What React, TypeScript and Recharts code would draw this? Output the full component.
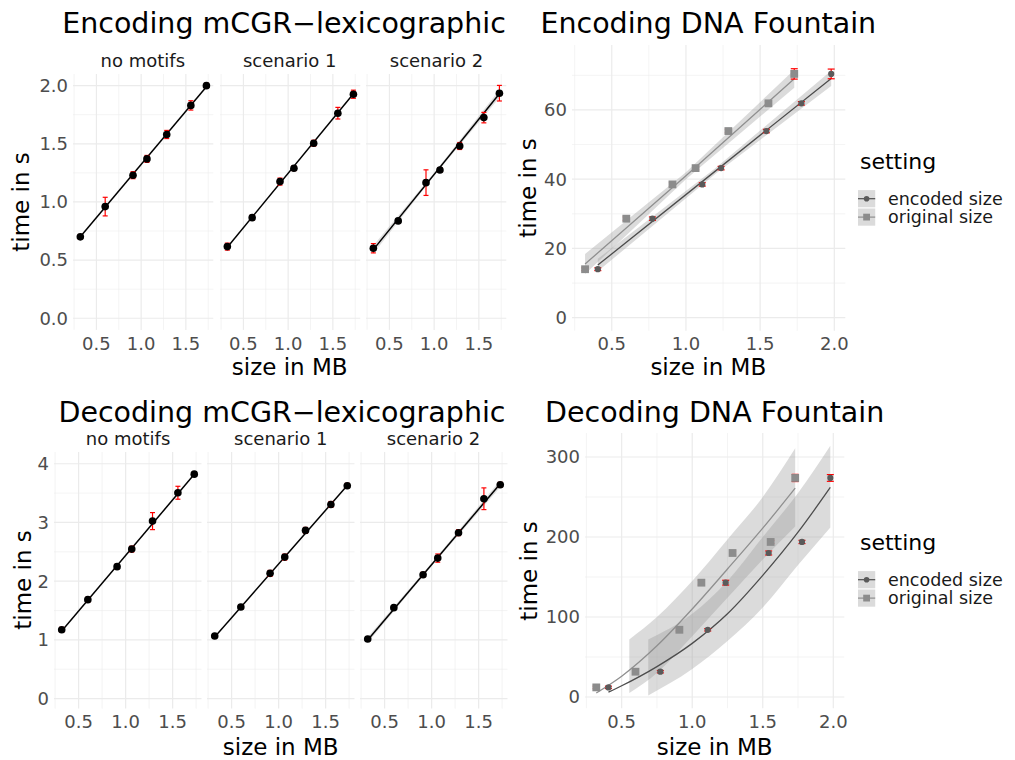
import React from 'react';
import { ComposedChart, Scatter, Line, Area, XAxis, YAxis, CartesianGrid, ErrorBar } from 'recharts';

const FONT = "'DejaVu Sans', 'Liberation Sans', sans-serif";

// ---------------- data ----------------
const scenarios = ['no motifs', 'scenario 1', 'scenario 2'];
const originalSizeMB = [0.32, 0.598, 0.909, 1.065, 1.286, 1.556, 1.73];
const encodedSizeMB = [0.406, 0.774, 1.11, 1.237, 1.542, 1.778, 1.979];

// mCGR encoding times (s)
const mcgrEncNoMotifs = [0.70, 0.96, 1.23, 1.37, 1.58, 1.83, 2.0];
const mcgrEncNoMotifsErr = [0.02, 0.08, 0.03, 0.03, 0.035, 0.04, 0.02];
const mcgrEncScen1 = [0.616, 0.865, 1.175, 1.29, 1.505, 1.763, 1.926];
const mcgrEncScen1Err = [0.03, 0.02, 0.03, 0.02, 0.025, 0.05, 0.035];
const mcgrEncScen2 = [0.602, 0.837, 1.166, 1.275, 1.481, 1.725, 1.935];
const mcgrEncScen2Err = [0.04, 0.02, 0.11, 0.02, 0.03, 0.045, 0.067];
const mcgrEncFitStart = [0.70, 0.61, 0.59];
const mcgrEncFitEnd = [1.99, 1.93, 1.93];
const mcgrEncScen2BandX = [0.32, 1.0, 1.73];
const mcgrEncScen2BandLo = [0.555, 1.225, 1.895];
const mcgrEncScen2BandHi = [0.625, 1.25, 1.965];

// mCGR decoding times (s)
const mcgrDecNoMotifs = [1.174, 1.685, 2.247, 2.546, 3.023, 3.506, 3.823];
const mcgrDecNoMotifsErr = [0.04, 0.04, 0.04, 0.05, 0.145, 0.11, 0.03];
const mcgrDecScen1 = [1.066, 1.559, 2.133, 2.41, 2.865, 3.307, 3.626];
const mcgrDecScen1Err = [0.03, 0.04, 0.05, 0.05, 0.05, 0.05, 0.04];
const mcgrDecScen2 = [1.014, 1.549, 2.11, 2.393, 2.826, 3.404, 3.643];
const mcgrDecScen2Err = [0.03, 0.03, 0.04, 0.07, 0.05, 0.185, 0.04];
const mcgrDecFitStart = [1.15, 1.05, 1.0];
const mcgrDecFitEnd = [3.82, 3.63, 3.66];
const mcgrDecScen2BandX = [0.32, 1.0, 1.73];
const mcgrDecScen2BandLo = [0.95, 2.26, 3.6];
const mcgrDecScen2BandHi = [1.05, 2.31, 3.72];

// DNA Fountain encoding times (s)
const fountainEncTime = [14.0, 28.6, 38.5, 43.2, 53.9, 61.9, 70.4];
const fountainEncErrOrig = [0.4, 0.5, 0.5, 0.5, 0.5, 0.5, 1.5];
const fountainEncErrEnc = [0.4, 0.5, 0.5, 0.5, 0.5, 0.5, 1.4];
const fountainEncFitOrigX = [0.32, 1.0, 1.73];
const fountainEncFitOrigY = [15.5, 41.0, 69.0];
const fountainEncFitOrigLo = [12.6, 40.0, 66.4];
const fountainEncFitOrigHi = [18.4, 42.0, 71.6];
const fountainEncFitEncX = [0.406, 1.2, 1.979];
const fountainEncFitEncY = [15.2, 42.4, 69.1];
const fountainEncFitEncLo = [13.4, 41.6, 66.9];
const fountainEncFitEncHi = [17.0, 43.2, 71.3];

// DNA Fountain decoding times (s)
const fountainDecTime = [12, 31.6, 84, 142.9, 180, 193.8, 273.8];
const fountainDecErrOrig = [1.5, 2, 1.5, 3, 2.5, 2, 4.5];
const fountainDecErrEnc = [1.5, 1.5, 1.5, 3, 2.5, 2, 4.2];
const fountainDecFitOrigX = [0.32, 0.5, 0.75, 1.0, 1.25, 1.5, 1.73];
const fountainDecFitOrigY = [5, 26, 64, 110, 160, 211, 261];
const fountainDecBandOrigX = [0.554, 0.75, 1.0, 1.25, 1.5, 1.73];
const fountainDecBandOrigLo = [5, 30, 76, 124, 172, 213];
const fountainDecBandOrigHi = [72, 100, 145, 197, 250, 311];
const fountainDecFitEncX = [0.406, 0.5, 0.75, 1.0, 1.25, 1.5, 1.75, 1.979];
const fountainDecFitEncY = [6, 14, 38, 67, 104, 152, 206, 262];
const fountainDecBandEncX = [0.688, 1.0, 1.25, 1.5, 1.75, 1.979];
const fountainDecBandEncLo = [2, 35, 70, 112, 165, 212];
const fountainDecBandEncHi = [72, 104, 145, 200, 255, 314];

// ticks
const mcgrXTicks = [0.5, 1.0, 1.5];
const mcgrXMinor = [0.25, 0.75, 1.25, 1.75];
const mcgrEncYTicks = [0, 0.5, 1.0, 1.5, 2.0];
const mcgrEncYMinor = [0.25, 0.75, 1.25, 1.75];
const mcgrDecYTicks = [0, 1, 2, 3, 4];
const mcgrDecYMinor = [0.5, 1.5, 2.5, 3.5];
const fountainXTicks = [0.5, 1.0, 1.5, 2.0];
const fountainXMinor = [0.25, 0.75, 1.25, 1.75];
const fountainEncYTicks = [0, 20, 40, 60];
const fountainEncYMinor = [10, 30, 50, 70];
const fountainDecYTicks = [0, 100, 200, 300];
const fountainDecYMinor = [50, 150, 250];
const settingLabels = ['encoded size', 'original size'];

// ---------------- styles ----------------
const COL_ENC = '#4d4d4d';
const COL_ORIG = '#8f8f8f';
const PT_ENC = '#5a5a5a';
const PT_ORIG = '#8c8c8c';
const BAND = '#999999';
const BAND_OP = 0.35;
const TICK = { fill: '#4d4d4d', fontSize: 18, fontFamily: FONT };

const pts = (xs: number[], ys: number[], errs: number[]) =>
  xs.map((x, i) => ({ x, y: ys[i], err: errs[i] }));
const line = (xs: number[], ys: number[]) => xs.map((x, i) => ({ x, y: ys[i] }));
const band = (xs: number[], lo: number[], hi: number[]) =>
  xs.map((x, i) => ({ x, range: [lo[i], hi[i]] }));

const Empty = () => <g />;
const BlackDot = (p: any) => <circle cx={p.cx} cy={p.cy} r={3.8} fill="#000" />;
const EncDot = (p: any) => <circle cx={p.cx} cy={p.cy} r={3.1} fill={PT_ENC} />;
const OrigSquare = (p: any) => (
  <rect x={p.cx - 3.9} y={p.cy - 3.9} width={7.8} height={7.8} fill={PT_ORIG} />
);

type PanelProps = {
  left: number; top: number; width: number; height: number;
  yAxisWidth: number; xAxisHeight: number; showY: boolean;
  xDomain: [number, number]; yDomain: [number, number];
  xTicks: number[]; xMinor: number[]; yTicks: number[]; yMinor: number[];
  yFmt: (v: number) => string;
  children: React.ReactNode;
};

const RIGHT_PAD = 20;

function Panel(p: PanelProps) {
  const yw = p.showY ? p.yAxisWidth : 0;
  return (
    <div style={{ position: 'absolute', left: p.left - yw, top: p.top }}>
      <ComposedChart width={p.width + yw + RIGHT_PAD} height={p.height + p.xAxisHeight}
        margin={{ top: 0, right: RIGHT_PAD, bottom: 0, left: 0 }}>
        <CartesianGrid stroke="#ececec" strokeWidth={0.6}
          horizontalValues={p.yMinor} verticalValues={p.xMinor} />
        <CartesianGrid stroke="#ebebeb" strokeWidth={1.2}
          horizontalValues={p.yTicks} verticalValues={p.xTicks} />
        <XAxis type="number" dataKey="x" domain={p.xDomain} ticks={p.xTicks} interval={0}
          allowDataOverflow tickLine={false} axisLine={false} tickSize={0} tickMargin={7}
          height={p.xAxisHeight} tick={TICK} tickFormatter={(v: number) => v.toFixed(1)} />
        <YAxis type="number" dataKey="y" domain={p.yDomain} ticks={p.yTicks} interval={0}
          allowDataOverflow hide={!p.showY} width={p.yAxisWidth} tickLine={false}
          axisLine={false} tickSize={0} tickMargin={5} tick={TICK} tickFormatter={p.yFmt} />
        {p.children}
      </ComposedChart>
    </div>
  );
}

function mcgrSeries(xs: number[], ys: number[], errs: number[], f0: number, f1: number,
  bandData?: { x: number; range: number[] }[]) {
  const data = pts(xs, ys, errs);
  const fit = line([xs[0], xs[xs.length - 1]], [f0, f1]);
  const out: React.ReactNode[] = [];
  if (bandData) {
    out.push(
      <Area key="band" data={bandData} dataKey="range" type="linear" stroke="none"
        fill={BAND} fillOpacity={0.3} isAnimationActive={false} activeDot={false} />
    );
  }
  out.push(
    <Line key="fit" data={fit} dataKey="y" type="linear" stroke="#000" strokeWidth={1.5}
      dot={false} activeDot={false} isAnimationActive={false} />,
    <Scatter key="pts" data={data} shape={BlackDot} isAnimationActive={false} />,
    <Scatter key="err" data={data} shape={Empty} isAnimationActive={false}>
      <ErrorBar dataKey="err" direction="y" width={2.5} stroke="#ff0000" strokeWidth={1.2} />
    </Scatter>
  );
  return out;
}

const encMcgr = [
  [mcgrEncNoMotifs, mcgrEncNoMotifsErr],
  [mcgrEncScen1, mcgrEncScen1Err],
  [mcgrEncScen2, mcgrEncScen2Err],
];
const decMcgr = [
  [mcgrDecNoMotifs, mcgrDecNoMotifsErr],
  [mcgrDecScen1, mcgrDecScen1Err],
  [mcgrDecScen2, mcgrDecScen2Err],
];
const encBands = [undefined, undefined, band(mcgrEncScen2BandX, mcgrEncScen2BandLo, mcgrEncScen2BandHi)];
const decBands = [undefined, undefined, band(mcgrDecScen2BandX, mcgrDecScen2BandLo, mcgrDecScen2BandHi)];

const TL_LEFTS = [72.7, 219.5, 366.3];
const TL_W = 140.3;
const BL_LEFTS = [54.3, 207, 359.7];
const BL_W = 147.5;

function fountainPoints(timeArr: number[], errOrig: number[], errEnc: number[]) {
  const orig = pts(originalSizeMB, timeArr, errOrig);
  const enc = pts(encodedSizeMB, timeArr, errEnc);
  return [
    <Scatter key="po" data={orig} shape={OrigSquare} isAnimationActive={false} />,
    <Scatter key="pe" data={enc} shape={EncDot} isAnimationActive={false} />,
    <Scatter key="eo" data={orig} shape={Empty} isAnimationActive={false}>
      <ErrorBar dataKey="err" direction="y" width={3.5} stroke="#ff0000" strokeWidth={1.2} />
    </Scatter>,
    <Scatter key="ee" data={enc} shape={Empty} isAnimationActive={false}>
      <ErrorBar dataKey="err" direction="y" width={3.5} stroke="#ff0000" strokeWidth={1.2} />
    </Scatter>,
  ];
}

function Legend({ top }: { top: number }) {
  const keys = [
    { c: COL_ENC, sq: false },
    { c: COL_ORIG, sq: true },
  ];
  return (
    <g>
      <text x={860} y={top} fontSize={22} fontFamily={FONT} fill="#000">setting</text>
      {keys.map((k, i) => {
        const cy = top + 29.7 + i * 18.4;
        return (
          <g key={i}>
            <rect x={858} y={cy - 8.6} width={17.2} height={17.2} fill={BAND} fillOpacity={BAND_OP} />
            <line x1={858} x2={875.2} y1={cy} y2={cy} stroke={k.c} strokeWidth={1.2} />
            {k.sq ? (
              <rect x={866.6 - 3.4} y={cy - 3.4} width={6.8} height={6.8} fill={PT_ORIG} />
            ) : (
              <circle cx={866.6} cy={cy} r={2.8} fill={PT_ENC} />
            )}
            <text x={888} y={cy + 6.1} fontSize={17.5} fontFamily={FONT} fill="#1a1a1a">
              {settingLabels[i]}
            </text>
          </g>
        );
      })}
    </g>
  );
}

export default function App() {
  const txt = { fontFamily: FONT, fill: '#000' } as const;
  return (
    <div style={{ position: 'absolute', left: 0, top: 0, width: 1015, height: 760, background: '#fff', overflow: 'hidden' }}>
      {/* Encoding mCGR */}
      {scenarios.map((s, i) => (
        <Panel key={'te' + i} left={TL_LEFTS[i]} top={74.1} width={TL_W} height={255.9}
          yAxisWidth={60} xAxisHeight={30} showY={i === 0}
          xDomain={[0.238, 1.807]} yDomain={[-0.1, 2.1]}
          xTicks={mcgrXTicks} xMinor={mcgrXMinor} yTicks={mcgrEncYTicks} yMinor={mcgrEncYMinor}
          yFmt={(v) => v.toFixed(1)}>
          {mcgrSeries(originalSizeMB, encMcgr[i][0], encMcgr[i][1], mcgrEncFitStart[i], mcgrEncFitEnd[i], encBands[i])}
        </Panel>
      ))}
      {/* Decoding mCGR */}
      {scenarios.map((s, i) => (
        <Panel key={'bd' + i} left={BL_LEFTS[i]} top={451.7} width={BL_W} height={256.6}
          yAxisWidth={45} xAxisHeight={30} showY={i === 0}
          xDomain={[0.238, 1.807]} yDomain={[-0.17, 4.2]}
          xTicks={mcgrXTicks} xMinor={mcgrXMinor} yTicks={mcgrDecYTicks} yMinor={mcgrDecYMinor}
          yFmt={(v) => String(v)}>
          {mcgrSeries(originalSizeMB, decMcgr[i][0], decMcgr[i][1], mcgrDecFitStart[i], mcgrDecFitEnd[i], decBands[i])}
        </Panel>
      ))}
      {/* Encoding DNA Fountain */}
      <Panel left={571.7} top={45} width={273.3} height={285.7} yAxisWidth={50} xAxisHeight={30}
        showY xDomain={[0.232, 2.074]} yDomain={[-3.75, 78.75]}
        xTicks={fountainXTicks} xMinor={fountainXMinor} yTicks={fountainEncYTicks} yMinor={fountainEncYMinor}
        yFmt={(v) => String(v)}>
        {[
          <Area key="bo" data={band(fountainEncFitOrigX, fountainEncFitOrigLo, fountainEncFitOrigHi)}
            dataKey="range" type="linear" stroke="none" fill={BAND} fillOpacity={BAND_OP}
            isAnimationActive={false} activeDot={false} />,
          <Area key="be" data={band(fountainEncFitEncX, fountainEncFitEncLo, fountainEncFitEncHi)}
            dataKey="range" type="linear" stroke="none" fill={BAND} fillOpacity={BAND_OP}
            isAnimationActive={false} activeDot={false} />,
          <Line key="lo" data={line(fountainEncFitOrigX, fountainEncFitOrigY)} dataKey="y" type="linear"
            stroke={COL_ORIG} strokeWidth={1.3} dot={false} activeDot={false} isAnimationActive={false} />,
          <Line key="le" data={line(fountainEncFitEncX, fountainEncFitEncY)} dataKey="y" type="linear"
            stroke={COL_ENC} strokeWidth={1.3} dot={false} activeDot={false} isAnimationActive={false} />,
          ...fountainPoints(fountainEncTime, fountainEncErrOrig, fountainEncErrEnc),
        ]}
      </Panel>
      {/* Decoding DNA Fountain */}
      <Panel left={585} top={433.3} width={259.3} height={275.2} yAxisWidth={60} xAxisHeight={30}
        showY xDomain={[0.24, 2.078]} yDomain={[-14, 330]}
        xTicks={fountainXTicks} xMinor={fountainXMinor} yTicks={fountainDecYTicks} yMinor={fountainDecYMinor}
        yFmt={(v) => String(v)}>
        {[
          <Area key="bo" data={band(fountainDecBandOrigX, fountainDecBandOrigLo, fountainDecBandOrigHi)}
            dataKey="range" type="monotone" stroke="none" fill={BAND} fillOpacity={BAND_OP}
            isAnimationActive={false} activeDot={false} />,
          <Area key="be" data={band(fountainDecBandEncX, fountainDecBandEncLo, fountainDecBandEncHi)}
            dataKey="range" type="monotone" stroke="none" fill={BAND} fillOpacity={BAND_OP}
            isAnimationActive={false} activeDot={false} />,
          <Line key="lo" data={line(fountainDecFitOrigX, fountainDecFitOrigY)} dataKey="y" type="monotone"
            stroke={COL_ORIG} strokeWidth={1.3} dot={false} activeDot={false} isAnimationActive={false} />,
          <Line key="le" data={line(fountainDecFitEncX, fountainDecFitEncY)} dataKey="y" type="monotone"
            stroke={COL_ENC} strokeWidth={1.3} dot={false} activeDot={false} isAnimationActive={false} />,
          ...fountainPoints(fountainDecTime, fountainDecErrOrig, fountainDecErrEnc),
        ]}
      </Panel>

      <svg width={1015} height={760} style={{ position: 'absolute', left: 0, top: 0, pointerEvents: 'none' }}>
        {/* titles */}
        <text x={284} y={33.3} textAnchor="middle" fontSize={28.5} {...txt}>Encoding mCGR{'\u2212'}lexicographic</text>
        <text x={708.3} y={33.3} textAnchor="middle" fontSize={28.5} {...txt}>Encoding DNA Fountain</text>
        <text x={282} y={421.5} textAnchor="middle" fontSize={28.5} {...txt}>Decoding mCGR{'\u2212'}lexicographic</text>
        <text x={714.7} y={421.5} textAnchor="middle" fontSize={28.5} {...txt}>Decoding DNA Fountain</text>
        {/* strips */}
        {scenarios.map((s, i) => (
          <text key={'st' + i} x={TL_LEFTS[i] + TL_W / 2} y={66.5} textAnchor="middle" fontSize={18}
            fontFamily={FONT} fill="#1a1a1a">{s}</text>
        ))}
        {scenarios.map((s, i) => (
          <text key={'sb' + i} x={BL_LEFTS[i] + BL_W / 2} y={445} textAnchor="middle" fontSize={18}
            fontFamily={FONT} fill="#1a1a1a">{s}</text>
        ))}
        {/* axis titles */}
        <text x={289.7} y={375} textAnchor="middle" fontSize={23} {...txt}>size in MB</text>
        <text x={708.3} y={375} textAnchor="middle" fontSize={23} {...txt}>size in MB</text>
        <text x={280.7} y={755} textAnchor="middle" fontSize={23} {...txt}>size in MB</text>
        <text x={714.7} y={755} textAnchor="middle" fontSize={23} {...txt}>size in MB</text>
        <text transform="translate(29,202) rotate(-90)" textAnchor="middle" fontSize={23} {...txt}>time in s</text>
        <text transform="translate(536,188) rotate(-90)" textAnchor="middle" fontSize={23} {...txt}>time in s</text>
        <text transform="translate(30.5,580) rotate(-90)" textAnchor="middle" fontSize={23} {...txt}>time in s</text>
        <text transform="translate(537,571) rotate(-90)" textAnchor="middle" fontSize={23} {...txt}>time in s</text>
        {/* legends */}
        <Legend top={169} />
        <Legend top={550} />
      </svg>
    </div>
  );
}
